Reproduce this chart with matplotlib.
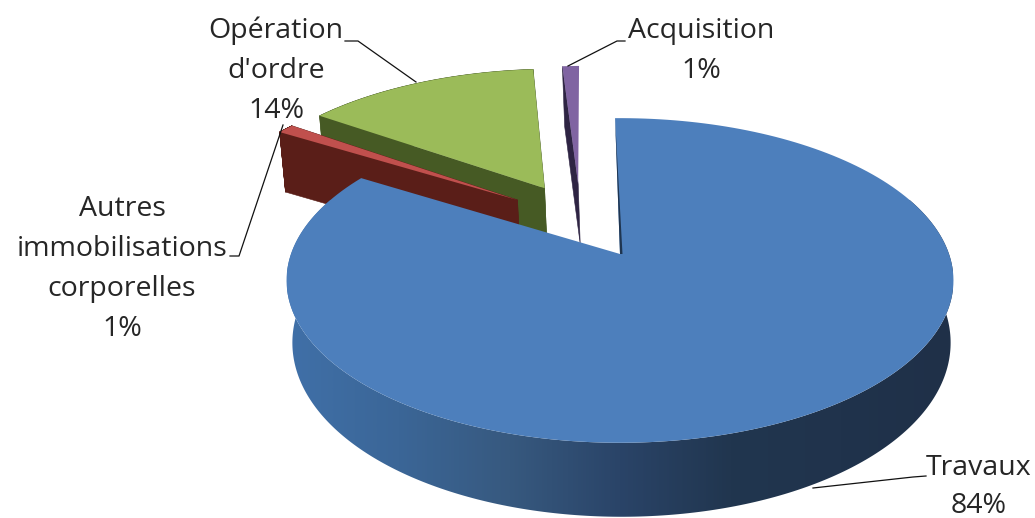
import numpy as np
import matplotlib
matplotlib.use("Agg")
import matplotlib.pyplot as plt
from matplotlib.colors import LinearSegmentedColormap
from matplotlib.patches import Polygon

# data
labels = ["Travaux\n84%", "Autres\nimmobilisations\ncorporelles\n1%", "Opération\nd'ordre\n14%", "Acquisition\n1%"]
values = [84, 1, 14, 1]

# style
top_colors = ["#4d7fbc", "#c0504d", "#9bbb59", "#8064a2"]
side_colors = ["#2b4668", "#5a1e18", "#465a24", "#2e2443"]
explode_u = [0, -0.33, -0.246, -0.137]
explode_v = [0, 0.362, 0.447, 0.477]
label_pos = [(979, 487), (122, 269), (276, 71), (701, 51)]
label_spacing = [1.44, 1.56, 1.56, 1.56]
leaders = [
    [(926, 476), (913, 477), (813, 488)],
    [(230, 256), (239, 256), (283, 125)],
    [(345, 41), (358, 41), (416, 82)],
    [(625, 41), (617, 41), (568, 66)],
]
side_stops = ["#4070a8", "#3b6697", "#37597f", "#2a4468", "#21364f", "#20334c", "#1f3048"]

cx, cy = 620, 254
A, B, k = 158, 329, 0.163
start = -1.0


def proj(u, v):
    # disc coords to pixels, with a bit of perspective
    d = 1 + k * v
    return cx + B * u / d, cy - A * v / d


def proj_bottom(u, v):
    x, y = proj(u, v)
    return cx + 1.5 + 0.987 * (x - cx), y + 60 - 14 * np.minimum(v, 0)


def outline(a0, a1, du, dv):
    t = np.radians(np.linspace(a0, a1, 200))
    u = np.concatenate([[du], np.sin(t) + du])
    v = np.concatenate([[dv], np.cos(t) + dv])
    return u, v


fig = plt.figure(figsize=(10.35, 5.18), dpi=100)
ax = fig.add_axes([0, 0, 1, 1])

cum = start + np.concatenate([[0], np.cumsum(values)]) * 3.6

# exploded slices behind the big one, back to front
z = 2.0
for i in [3, 2, 1]:
    u, v = outline(cum[i], cum[i + 1], explode_u[i], explode_v[i])
    xt, yt = proj(u, v)
    xb, yb = proj_bottom(u, v)
    # the thin purple one only shows its left face
    n_quads = 1 if i == 3 else len(u)
    for j in range(n_quads):
        n = (j + 1) % len(u)
        ax.fill([xt[j], xt[n], xb[n], xb[j]], [yt[j], yt[n], yb[n], yb[j]],
                color=side_colors[i], lw=0.4, zorder=z)
    ax.fill(xt, yt, color=top_colors[i], lw=0, zorder=z + 0.05)
    z += 0.1

# rim of the big slice, horizontal shading
t = np.radians(np.linspace(60, 300, 300))
xt, yt = proj(np.sin(t), np.cos(t))
xb, yb = proj_bottom(np.sin(t), np.cos(t))
rim = Polygon(np.column_stack([np.concatenate([xt, xb[::-1]]), np.concatenate([yt, yb[::-1]])]),
              closed=True, fc="none", ec="none", transform=ax.transData)
ax.add_patch(rim)
cmap = LinearSegmentedColormap.from_list("rim", side_stops)
im = ax.imshow(np.linspace(0, 1, 512).reshape(1, -1), cmap=cmap, aspect="auto",
               extent=[287, 953, 518, 200], zorder=3)
im.set_clip_path(rim)

# top of the big slice
u, v = outline(cum[0], cum[1], 0, 0)
xt, yt = proj(u, v)
ax.fill(xt, yt, color=top_colors[0], lw=0, zorder=4)
# thin dark edge at 12 o'clock
ax.fill([xt[1], xt[0], xt[0] + 2.5], [yt[1], yt[0], yt[0]], color="#1f3550", lw=0, zorder=5)

for pts in leaders:
    ax.plot([p[0] for p in pts], [p[1] for p in pts], color="#111111", lw=0.9, zorder=6)

for lab, pos, ls in zip(labels, label_pos, label_spacing):
    ax.text(pos[0], pos[1], lab, ha="center", va="center", family="Open Sans",
            fontsize=20.5, color="#262626", linespacing=ls, zorder=7)

ax.set_xlim(0, 1035)
ax.set_ylim(518, 0)
ax.axis("off")
fig.savefig("out.png", dpi=100)
